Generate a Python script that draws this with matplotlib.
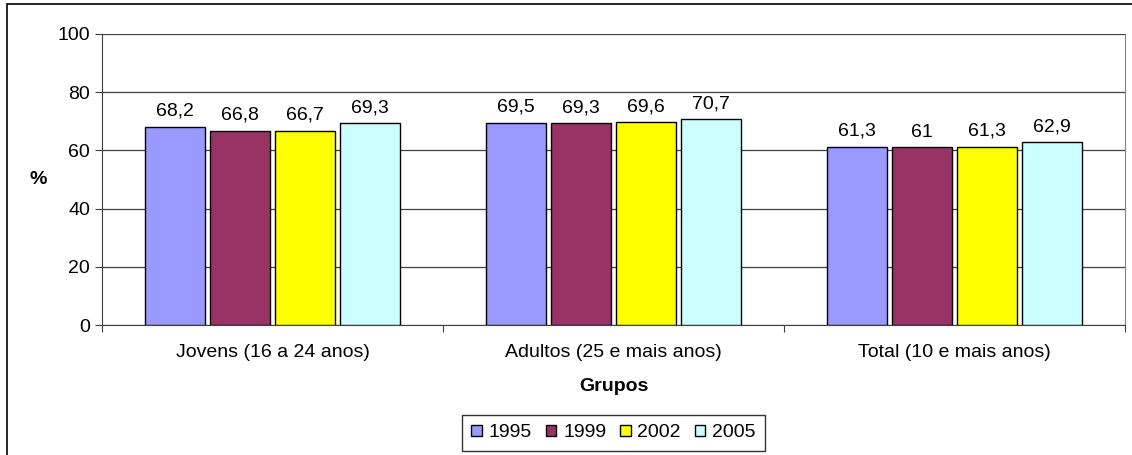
import matplotlib.pyplot as plt
from matplotlib.patches import Rectangle
import numpy as np

grupos = ['Jovens (16 a 24 anos)', 'Adultos (25 e mais anos)', 'Total (10 e mais anos)']
anos = ['1995', '1999', '2002', '2005']
valores = {
    '1995': [68.2, 69.5, 61.3],
    '1999': [66.8, 69.3, 61.0],
    '2002': [66.7, 69.6, 61.3],
    '2005': [69.3, 70.7, 62.9],
}
rotulos = {
    '1995': ['68,2', '69,5', '61,3'],
    '1999': ['66,8', '69,3', '61'],
    '2002': ['66,7', '69,6', '61,3'],
    '2005': ['69,3', '70,7', '62,9'],
}
cores = ['#9999FF', '#993366', '#FFFF00', '#CCFFFF']

plt.rcParams['font.family'] = ['Liberation Sans', 'DejaVu Sans']
fs = 14

fig = plt.figure(figsize=(11.32, 4.55), dpi=100)
ax = fig.add_axes([0.0901, 0.2857, 0.9037, 0.6396])

# moldura externa
fig.patches.append(Rectangle((0.0062, -0.05), 1.2, 0.991 + 0.05, transform=fig.transFigure,
                             fill=False, edgecolor='black', linewidth=1.2))

x = np.arange(len(grupos))
passo = 0.19
largura = 0.176
for i, ano in enumerate(anos):
    pos = x + (i - 1.5) * passo
    ax.bar(pos, valores[ano], width=largura, color=cores[i], edgecolor='black',
           linewidth=1, label=ano, zorder=3)
    for p, v, r in zip(pos, valores[ano], rotulos[ano]):
        ax.annotate(r, (p, v), xytext=(0, 5), textcoords='offset points',
                    ha='center', va='bottom', fontsize=fs)

ax.set_xlim(-0.5, 2.5)
ax.set_ylim(0, 100)
ax.set_yticks(range(0, 101, 20))
ax.yaxis.grid(True, color='#404040', linewidth=0.9, zorder=0)
ax.set_xticks([-0.5, 0.5, 1.5, 2.5])
ax.set_xticklabels([])
ax.set_xticks(x, minor=True)
ax.set_xticklabels(grupos, minor=True, fontsize=fs)
ax.tick_params(axis='x', which='minor', length=0, pad=14)
ax.tick_params(axis='x', which='major', length=5, color='#404040')
ax.tick_params(axis='y', length=5, labelsize=fs, color='#404040')

ax.spines['top'].set_visible(False)
ax.spines['right'].set_color('#808080')
ax.spines['left'].set_color('#404040')
ax.spines['bottom'].set_color('#404040')

ax.set_ylabel('%', fontsize=fs, fontweight='bold', rotation=0, labelpad=14, va='center')
ax.set_xlabel('Grupos', fontsize=fs, fontweight='bold', labelpad=12)

leg = ax.legend(loc='upper center', bbox_to_anchor=(0.5, -0.275), ncol=4, fontsize=fs,
                frameon=True, fancybox=False, edgecolor='black', handlelength=0.55,
                handleheight=0.55, handletextpad=0.35, columnspacing=0.7, borderpad=0.5)
leg.get_frame().set_linewidth(1)

fig.savefig('out.png', dpi=100)
